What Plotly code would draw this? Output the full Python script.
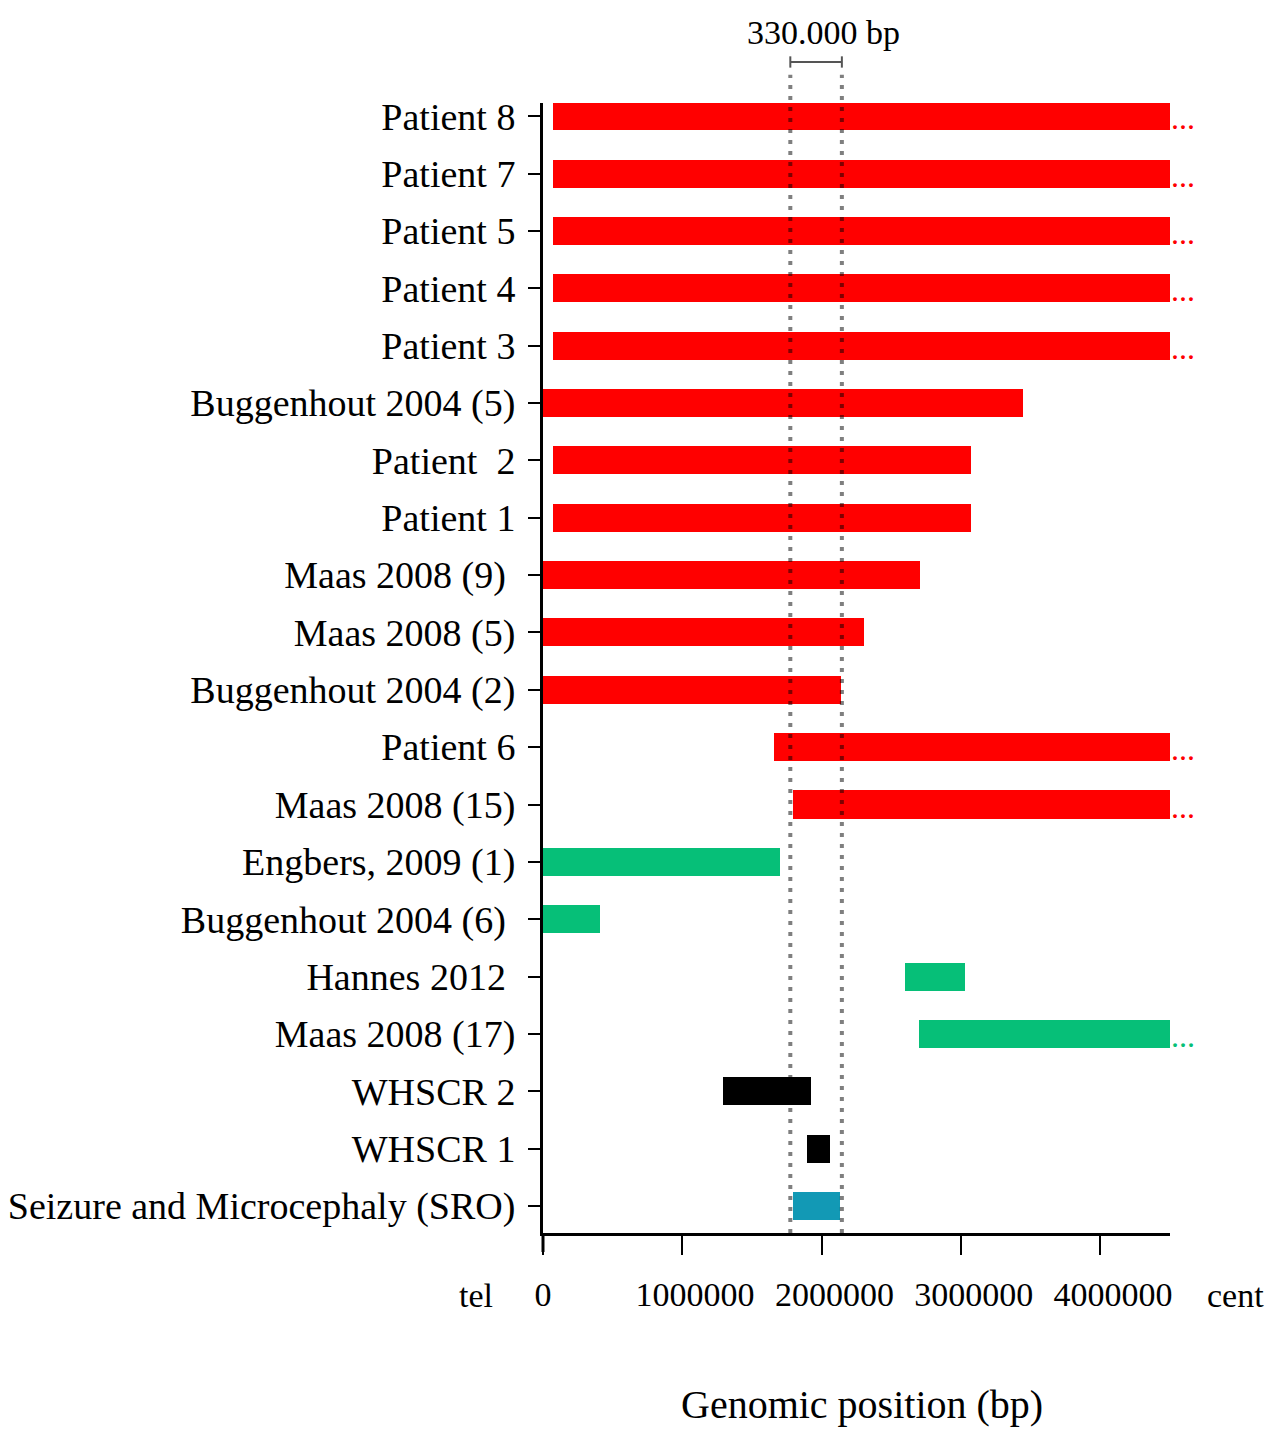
import plotly.graph_objects as go

# ---------------- data ----------------
categories = [
    "Patient 8", "Patient 7", "Patient 5", "Patient 4", "Patient 3",
    "Buggenhout 2004 (5)", "Patient\u00a0\u00a02", "Patient 1", "Maas 2008 (9)\u00a0",
    "Maas 2008 (5)", "Buggenhout 2004 (2)", "Patient 6", "Maas 2008 (15)",
    "Engbers, 2009 (1)", "Buggenhout 2004 (6)\u00a0", "Hannes 2012\u00a0",
    "Maas 2008 (17)", "WHSCR 2", "WHSCR 1", "Seizure and Microcephaly (SRO)",
]
starts = [72000, 72000, 72000, 72000, 72000,
          0, 72000, 72000, 0,
          0, 0, 1659000, 1796000,
          0, 0, 2600000,
          2700000, 1293000, 1897000, 1796000]
ends = [4500000, 4500000, 4500000, 4500000, 4500000,
        3448000, 3075000, 3075000, 2708000,
        2306000, 2141000, 4500000, 4500000,
        1703000, 409000, 3030000,
        4500000, 1925000, 2062000, 2134000]
groups = ["red"] * 13 + ["green"] * 4 + ["black"] * 2 + ["teal"]

sro_bounds = [1775000, 2145000]
scale_label = "330.000 bp"
x_tickvals = [0, 1000000, 2000000, 3000000, 4000000]
x_ticktext = ["0", "1000000", "2000000", "3000000", "4000000"]
x_max = 4500000
axis_title = "Genomic position (bp)"

# ---------------- styles ----------------
color_map = {"red": "#FF0000", "green": "#06BF78", "black": "#000000", "teal": "#1299B5"}
FONT = "Liberation Serif, Times New Roman, serif"
PAD = "\u00a0\u00a0\u00a0"  # labels in the original sit slightly right of their ticks

fig = go.Figure()
fig.add_trace(go.Bar(
    y=categories,
    x=[e - s for s, e in zip(starts, ends)],
    base=starts,
    orientation="h",
    marker=dict(color=[color_map[g] for g in groups], line=dict(width=0)),
    width=0.49,
    hoverinfo="skip",
    showlegend=False,
))

# dotted SRO boundary lines (on top of bars)
for xb in sro_bounds:
    fig.add_shape(type="line", xref="x", yref="paper", x0=xb, x1=xb, y0=0, y1=1.025,
                  line=dict(color="rgba(0,0,0,0.5)", width=4, dash="4px,7px"), layer="above")

# y-axis line continues down to tick length
fig.add_shape(type="line", xref="paper", yref="paper", x0=0, x1=0, y0=-0.0168, y1=0,
              line=dict(color="black", width=3))

# scale bar
ybar = 1.0363
fig.add_shape(type="line", xref="x", yref="paper", x0=sro_bounds[0], x1=sro_bounds[1],
              y0=ybar, y1=ybar, line=dict(color="#555555", width=2))
for xb in sro_bounds:
    fig.add_shape(type="line", xref="x", yref="paper", x0=xb, x1=xb,
                  y0=ybar - 0.005, y1=ybar + 0.005, line=dict(color="#555555", width=2))
fig.add_annotation(x=sum(sro_bounds) / 2, y=1.0628, xref="x", yref="paper", text=scale_label,
                   showarrow=False, xanchor="center", yanchor="middle", xshift=7,
                   font=dict(family=FONT, size=34, color="black"))

# continuation dots
for cat, e, g in zip(categories, ends, groups):
    if e >= x_max:
        fig.add_annotation(x=e, y=cat, xref="x", yref="y", text="...", showarrow=False,
                           xanchor="left", yanchor="middle", xshift=-1, yshift=-2,
                           font=dict(family=FONT, size=32, color=color_map[g]))

# tel / cent labels and axis title
fig.add_annotation(x=-0.107, y=-0.0549, xref="paper", yref="paper", text="tel", showarrow=False,
                   xanchor="center", yanchor="middle",
                   font=dict(family=FONT, size=34, color="black"))
fig.add_annotation(x=1.105, y=-0.0549, xref="paper", yref="paper", text="cent", showarrow=False,
                   xanchor="center", yanchor="middle",
                   font=dict(family=FONT, size=34, color="black"))
fig.add_annotation(x=0.509, y=-0.152, xref="paper", yref="paper", text=axis_title, showarrow=False,
                   xanchor="center", yanchor="middle",
                   font=dict(family=FONT, size=40, color="black"))

fig.update_layout(
    width=1273, height=1421,
    margin=dict(l=535, r=111, t=95, b=196, autoexpand=False),
    plot_bgcolor="white", paper_bgcolor="white",
    font=dict(family=FONT, color="black"),
    bargap=0,
)
fig.update_xaxes(
    range=[0, x_max], tickvals=x_tickvals,
    ticktext=[t if t == "0" else PAD + t for t in x_ticktext],
    tickangle=0,
    showgrid=False, zeroline=False, automargin=False,
    showline=True, linecolor="black", linewidth=3,
    ticks="outside", ticklen=19, tickwidth=2, tickcolor="black",
    tickfont=dict(family=FONT, size=34, color="black"),
    ticklabelstandoff=10,
)
fig.update_yaxes(
    categoryorder="array", categoryarray=list(reversed(categories)),
    range=[-0.47, 19.23], automargin=False,
    showgrid=False, zeroline=False,
    showline=True, linecolor="black", linewidth=3,
    ticks="outside", ticklen=12, tickwidth=2, tickcolor="black",
    tickfont=dict(family=FONT, size=38, color="black"),
    ticklabelstandoff=5,
)

fig.write_html("out.html")
